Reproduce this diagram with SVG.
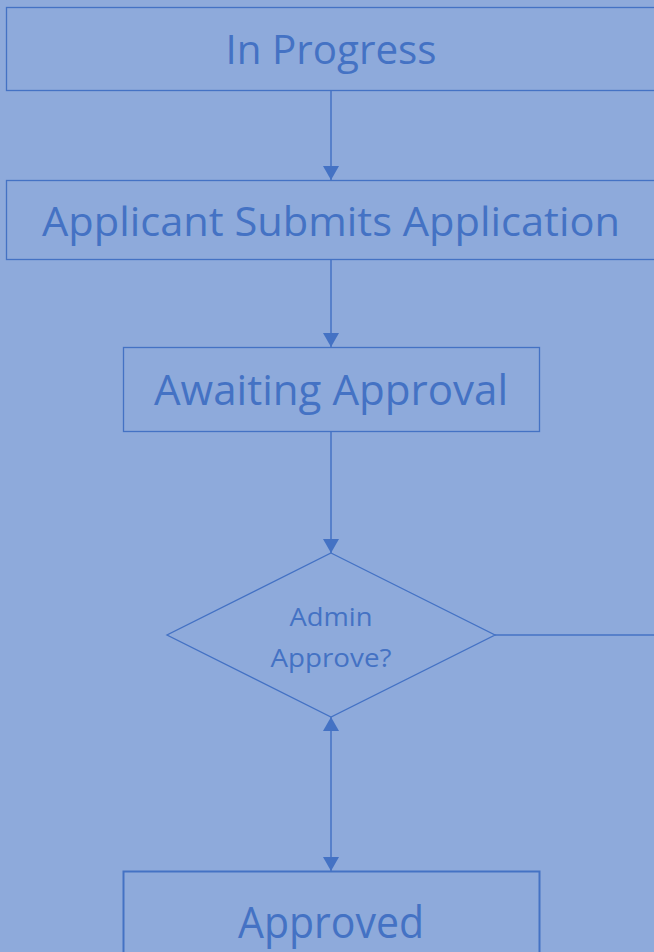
<svg xmlns="http://www.w3.org/2000/svg" width="654" height="952" viewBox="0 0 654 952">
<defs>
<style>
.box{fill:none;stroke:#4472c4;stroke-width:1.3}
.lbl{fill:#4472c4;font-family:"Open Sans","Liberation Sans",sans-serif;text-anchor:middle}
.con{fill:none;stroke:#4472c4;stroke-width:1.5}
</style>
<marker id="ah" viewBox="0 0 14 16" refX="14" refY="8" markerWidth="14" markerHeight="16" markerUnits="userSpaceOnUse" orient="auto-start-reverse">
<path d="M0,0 L14,8 L0,16 Z" fill="#4472c4"/>
</marker>
</defs>
<rect width="654" height="952" fill="#8eaadb"/>
<g id="connectors">
<line class="con" x1="331" y1="90" x2="331" y2="180" marker-end="url(#ah)"/>
<line class="con" x1="331" y1="259" x2="331" y2="347" marker-end="url(#ah)"/>
<line class="con" x1="331" y1="431" x2="331" y2="553" marker-end="url(#ah)"/>
<line class="con" x1="331" y1="717" x2="331" y2="871" marker-start="url(#ah)" marker-end="url(#ah)"/>
<line class="con" x1="495" y1="635" x2="660" y2="635" stroke-width="2"/>
</g>
<g id="in-progress">
<rect class="box" x="6.5" y="7.5" width="660" height="83"/>
<text class="lbl" x="331" y="64" font-size="40" textLength="211" lengthAdjust="spacingAndGlyphs">In Progress</text>
</g>
<g id="applicant-submits">
<rect class="box" x="6.5" y="180.5" width="660" height="79"/>
<text class="lbl" x="331" y="236" font-size="40" textLength="578" lengthAdjust="spacingAndGlyphs">Applicant Submits Application</text>
</g>
<g id="awaiting-approval">
<rect class="box" x="123.5" y="347.5" width="416" height="84"/>
<text class="lbl" x="331" y="405" font-size="42" textLength="354" lengthAdjust="spacingAndGlyphs">Awaiting Approval</text>
</g>
<g id="admin-approve">
<polygon class="box" points="331,553 495,635 331,717 167,635"/>
<text class="lbl" x="331" y="626" font-size="26" textLength="83" lengthAdjust="spacingAndGlyphs">Admin</text>
<text class="lbl" x="331" y="667" font-size="26" textLength="121" lengthAdjust="spacingAndGlyphs">Approve?</text>
</g>
<g id="approved">
<rect x="123.5" y="871.5" width="416" height="100" fill="none" stroke="#4472c4" stroke-width="2"/>
<text class="lbl" x="331" y="938" font-size="44" textLength="186" lengthAdjust="spacingAndGlyphs">Approved</text>
</g>
</svg>
